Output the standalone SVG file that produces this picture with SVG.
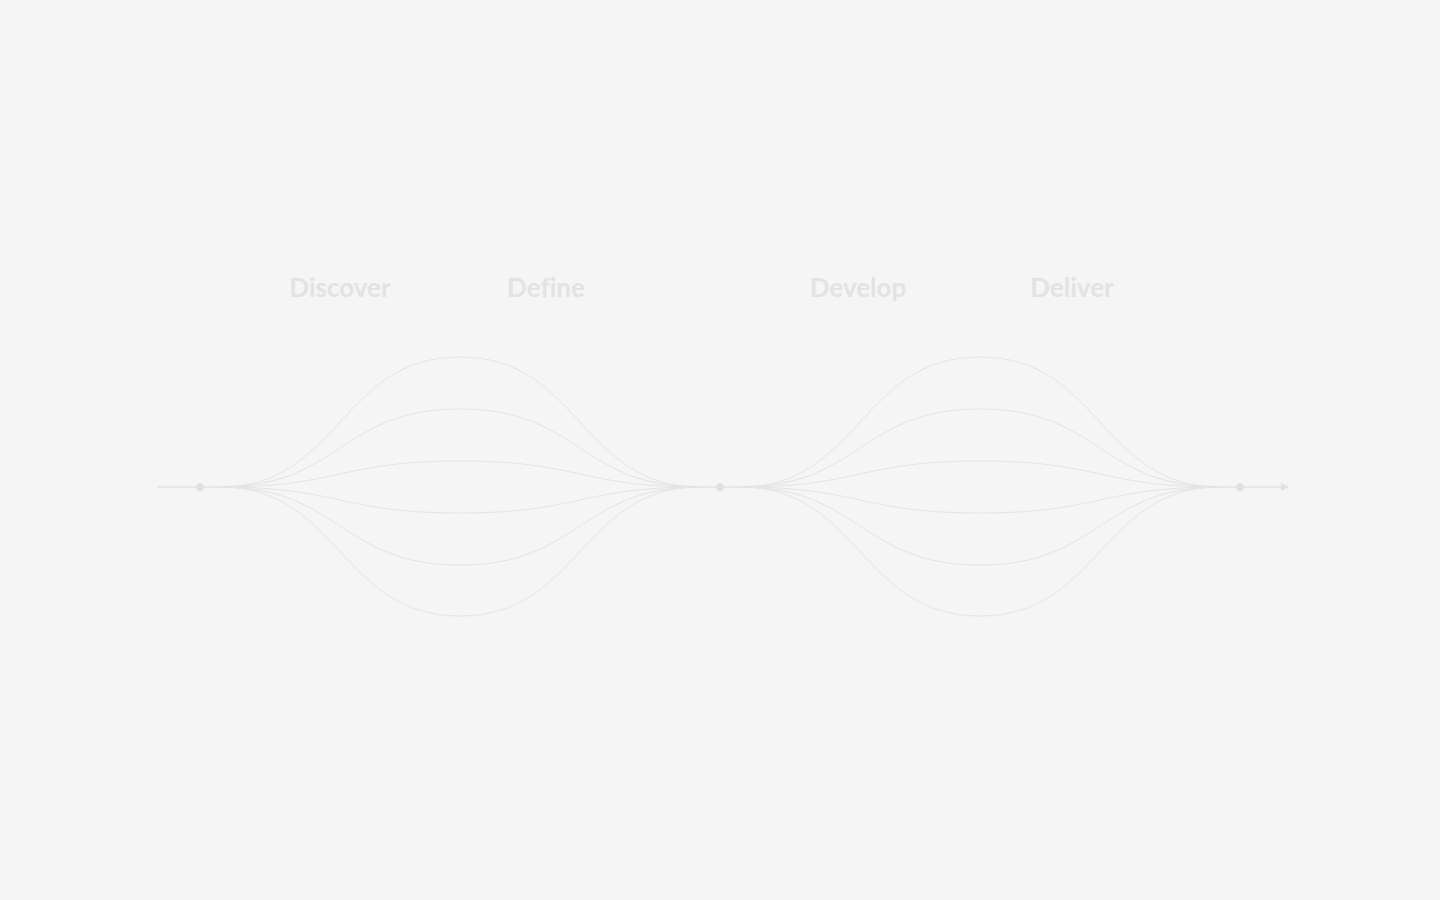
<svg xmlns="http://www.w3.org/2000/svg" width="1440" height="900" viewBox="0 0 1440 900">
<defs>
<style>
.bg{fill:#f5f5f5}
.lbl{font-family:Lato,"Open Sans",sans-serif;font-weight:700;font-size:26px;fill:#e2e2e2;text-anchor:middle;font-variant-ligatures:none}
.c{fill:none;stroke:#e3e3e3;stroke-width:1}
.axis{fill:none;stroke:#e0e0e0;stroke-width:1.6}
.dot{fill:#e0e0e0}
</style>
<marker id="arr" viewBox="0 0 10 10" refX="9" refY="5" markerWidth="5" markerHeight="5" orient="auto"><path d="M0,0 L10,5 L0,10 z" fill="#e0e0e0"/></marker>
<g id="diamond">
<path class="c" d="M220,487 C340,487 340,357 460,357 C580,357 580,487 700,487"/>
<path class="c" d="M220,487 C340,487 340,409 460,409 C580,409 580,487 700,487"/>
<path class="c" d="M220,487 C340,487 340,461 460,461 C580,461 580,487 700,487"/>
<path class="c" d="M220,487 C340,487 340,513 460,513 C580,513 580,487 700,487"/>
<path class="c" d="M220,487 C340,487 340,565 460,565 C580,565 580,487 700,487"/>
<path class="c" d="M220,487 C340,487 340,616 460,616 C580,616 580,487 700,487"/>
</g>
</defs>
<rect class="bg" x="0" y="0" width="1440" height="900"/>
<g id="connectors">
<line class="axis" x1="157" y1="487" x2="224" y2="487"/>
<line class="axis" x1="696" y1="487" x2="744" y2="487"/>
<line class="axis" x1="1216" y1="487" x2="1288" y2="487" marker-end="url(#arr)"/>
<use href="#diamond"/>
<use href="#diamond" x="520"/>
</g>
<g id="node-start"><circle class="dot" cx="200" cy="487" r="4"/></g>
<g id="node-mid"><circle class="dot" cx="720" cy="487" r="4"/></g>
<g id="node-end"><circle class="dot" cx="1240" cy="487" r="4"/></g>
<g id="label-discover"><text class="lbl" x="340" y="297">Discover</text></g>
<g id="label-define"><text class="lbl" x="546" y="297">Define</text></g>
<g id="label-develop"><text class="lbl" x="858" y="297">Develop</text></g>
<g id="label-deliver"><text class="lbl" x="1072" y="297">Deliver</text></g>
</svg>
